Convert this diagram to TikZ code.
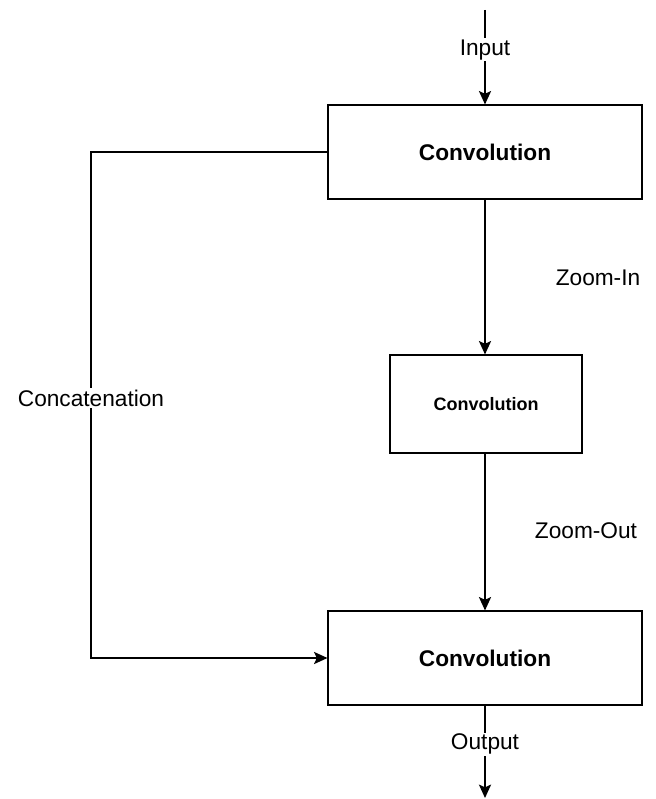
\documentclass[tikz,border=0pt]{standalone}
\usepackage{fontspec}
\setmainfont{Liberation Sans}
\usetikzlibrary{positioning,arrows.meta}

\tikzset{
    convbox/.style={draw, line width=0.8pt, minimum width=235.5pt, minimum height=70.5pt, font=\fontsize{17}{20}\selectfont\bfseries},
    smallbox/.style={convbox, minimum width=144pt, minimum height=73.5pt, font=\fontsize{13.5}{16}\selectfont\bfseries},
    lbl/.style={font=\fontsize{17}{20}\selectfont, fill=white, inner sep=1pt},
    flow/.style={line width=1.7pt, -{Stealth[length=10pt, width=9pt, inset=2pt]}}
}

\begin{document}
\begin{tikzpicture}[x=0.75pt, y=-0.75pt]
    \useasboundingbox (0,0) rectangle (656,799);

    % Blocks
    \node[convbox] (convtop) at (485,152) {Convolution};
    \node[smallbox] (convmid) at (486,404) {Convolution};
    \node[convbox] (convbot) at (485,658) {Convolution};

    % Free ends
    \coordinate (inp) at (485,10);
    \coordinate (outp) at (485,798);

    % Main path
    \draw[flow] (inp) -- node[lbl, pos=0.42] {Input} (convtop);
    \draw[flow] (convtop.south) -- (convmid.north -| convtop.south);
    \draw[flow] (convmid.south -| convbot.north) -- (convbot.north);
    \draw[flow] (convbot) -- node[lbl, pos=0.42] {Output} (outp);

    % Side labels
    \node[font=\fontsize{17}{20}\selectfont] (zin) at (598,278) {Zoom-In};
    \node[font=\fontsize{17}{20}\selectfont] (zout) at (586,531) {Zoom-Out};

    % Skip connection
    \draw[flow] (convtop.west) -- (91,152) -- node[lbl, pos=0.486] {Concatenation} (91,658) -- (convbot.west);
\end{tikzpicture}
\end{document}
